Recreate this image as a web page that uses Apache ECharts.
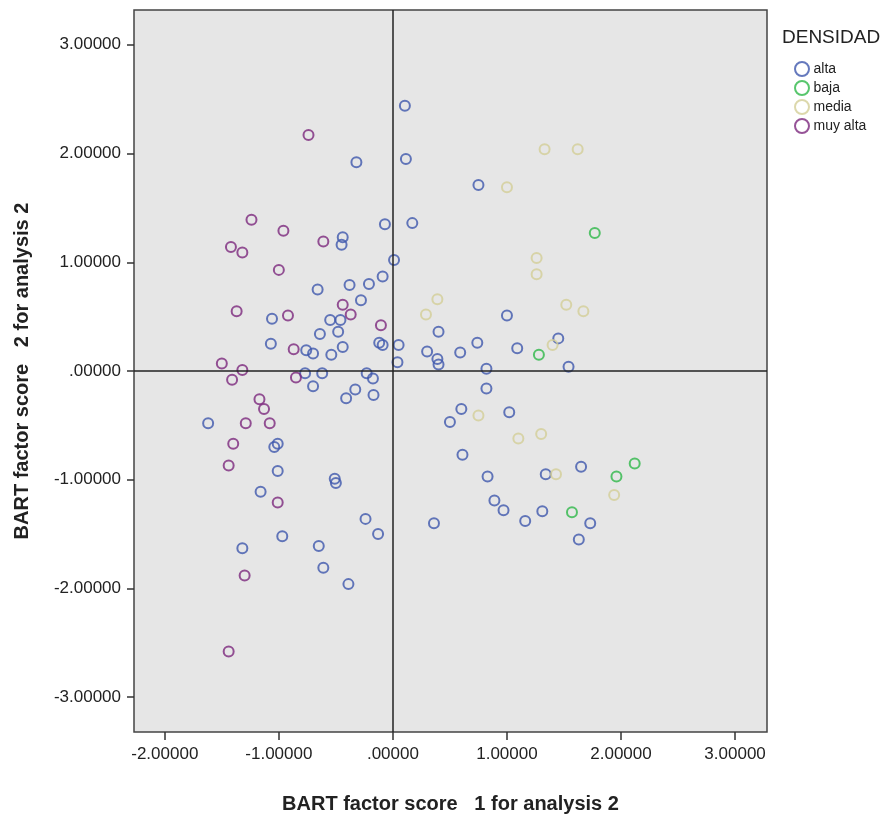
<!DOCTYPE html>
<html>
<head>
<meta charset="utf-8">
<script src="https://cdn.jsdelivr.net/npm/echarts@6/dist/echarts.min.js"></script>
<style>
  html, body { margin: 0; padding: 0; background: #fff; }
  #main { width: 892px; height: 819px; }
</style>
</head>
<body>
<div id="main"></div>
<script>
// puntos: [factor 1, factor 2]
var alta = [
  [-0.32,1.92],[0.105,2.44],[0.114,1.95],[0.75,1.71],[-0.44,1.23],[-0.45,1.16],
  [-0.07,1.35],[0.01,1.02],[-0.66,0.75],[-0.38,0.79],[-0.21,0.80],[-0.09,0.87],
  [-0.28,0.65],[-0.55,0.47],[-0.46,0.47],[-1.06,0.48],[-0.64,0.34],[-0.48,0.36],
  [-1.07,0.25],[-0.76,0.19],[-0.70,0.16],[-0.54,0.15],[-0.44,0.22],[-0.12,0.26],
  [-0.09,0.24],[-0.77,-0.02],[-0.62,-0.02],[-0.23,-0.02],[-0.175,-0.07],[-0.70,-0.14],
  [-0.33,-0.17],[-0.41,-0.25],[-0.17,-0.22],[-1.62,-0.48],[-1.04,-0.70],[-1.01,-0.67],
  [-1.01,-0.92],[-0.51,-0.99],[-0.50,-1.03],[-1.16,-1.11],[-0.24,-1.36],[-0.13,-1.50],
  [-0.97,-1.52],[-1.32,-1.63],[-0.65,-1.61],[-0.61,-1.81],[-0.39,-1.96],
  [0.17,1.36],[1.0,0.51],[0.40,0.36],[1.45,0.30],[0.05,0.24],[0.30,0.18],
  [0.39,0.11],[0.40,0.06],[0.59,0.17],[0.74,0.26],[1.09,0.21],[0.04,0.08],
  [0.82,0.02],[1.54,0.04],[0.82,-0.16],[0.60,-0.35],[0.50,-0.47],[1.02,-0.38],
  [0.61,-0.77],[0.83,-0.97],[1.34,-0.95],[1.65,-0.88],[0.89,-1.19],[0.97,-1.28],
  [1.31,-1.29],[1.16,-1.38],[1.73,-1.40],[1.63,-1.55],[0.36,-1.40]
];
var baja = [[1.77,1.27],[1.28,0.15],[2.12,-0.85],[1.96,-0.97],[1.57,-1.30]];
var media = [
  [1.0,1.69],[1.33,2.04],[1.62,2.04],[1.26,1.04],[1.26,0.89],[0.39,0.66],[0.29,0.52],
  [1.52,0.61],[1.67,0.55],[1.40,0.24],[0.75,-0.41],[1.10,-0.62],[1.30,-0.58],
  [1.43,-0.95],[1.94,-1.14]
];
var muyAlta = [
  [-0.74,2.17],[-1.24,1.39],[-0.96,1.29],[-1.42,1.14],[-1.32,1.09],[-0.61,1.19],
  [-1.0,0.93],[-0.44,0.61],[-0.37,0.52],[-1.37,0.55],[-0.92,0.51],[-0.105,0.42],
  [-0.87,0.20],[-1.50,0.07],[-1.32,0.01],[-1.41,-0.08],[-0.85,-0.06],[-1.17,-0.26],
  [-1.13,-0.35],[-1.29,-0.48],[-1.08,-0.48],[-1.40,-0.67],[-1.44,-0.87],[-1.01,-1.21],
  [-1.30,-1.88],[-1.44,-2.58]
];
var xTicks = [-2, -1, 0, 1, 2, 3];
var yTicks = [-3, -2, -1, 0, 1, 2, 3];

var fontFam = '"Liberation Sans", Arial, sans-serif';
function fmt(v) { return v === 0 ? '.00000' : v.toFixed(5); }

function serie(nombre, datos, color) {
  return {
    name: nombre,
    type: 'scatter',
    symbol: 'circle',
    symbolSize: 10,
    data: datos,
    itemStyle: { color: 'rgba(0,0,0,0)', borderColor: color, borderWidth: 2 }
  };
}

var myChart = echarts.init(document.getElementById('main'));
var option = {
  animation: false,
  title: {
    text: 'DENSIDAD',
    left: 777, top: 23,
    textStyle: { fontFamily: fontFam, fontSize: 19, fontWeight: 'normal', color: '#222' }
  },
  legend: {
    orient: 'vertical',
    left: 789, top: 56,
    itemWidth: 15, itemHeight: 14, itemGap: 3,
    textStyle: { fontFamily: fontFam, fontSize: 14, color: '#222', padding: [0, 0, 0, -1] },
    data: ['alta', 'baja', 'media', 'muy alta']
  },
  grid: {
    left: 134, right: 125, top: 10, bottom: 82,
    show: true, backgroundColor: '#e6e6e6', borderColor: '#444', borderWidth: 1.5
  },
  xAxis: {
    type: 'value',
    min: -2.27, max: 3.28,
    name: 'BART factor score   1 for analysis 2',
    nameLocation: 'middle', nameGap: 62,
    nameTextStyle: { fontFamily: fontFam, fontSize: 20, fontWeight: 'bold', color: '#222' },
    splitLine: { show: false },
    axisLine: { show: false, onZero: false },
    axisTick: { show: true, length: 8, lineStyle: { color: '#333', width: 1.5 }, customValues: xTicks },
    axisLabel: { fontFamily: fontFam, fontSize: 17, color: '#222', margin: 14, formatter: fmt, customValues: xTicks }
  },
  yAxis: {
    type: 'value',
    min: -3.32, max: 3.32,
    name: 'BART factor score   2 for analysis 2',
    nameLocation: 'middle', nameGap: 102,
    nameTextStyle: { fontFamily: fontFam, fontSize: 20, fontWeight: 'bold', color: '#222' },
    splitLine: { show: false },
    axisLine: { show: false, onZero: false },
    axisTick: { show: true, length: 7, lineStyle: { color: '#333', width: 1.5 }, customValues: yTicks },
    axisLabel: { fontFamily: fontFam, fontSize: 17, color: '#222', margin: 13, formatter: fmt, customValues: yTicks }
  },
  series: [
    serie('alta', alta, '#3E58AC'),
    serie('baja', baja, '#2EB848'),
    serie('media', media, '#D3CE97'),
    serie('muy alta', muyAlta, '#7C287D'),
    {
      type: 'scatter', data: [], silent: true,
      markLine: {
        silent: true, symbol: 'none', animation: false,
        label: { show: false },
        lineStyle: { color: '#222', width: 1.5, type: 'solid' },
        data: [{ xAxis: 0 }, { yAxis: 0 }]
      }
    }
  ]
};
myChart.setOption(option);
</script>
</body>
</html>
